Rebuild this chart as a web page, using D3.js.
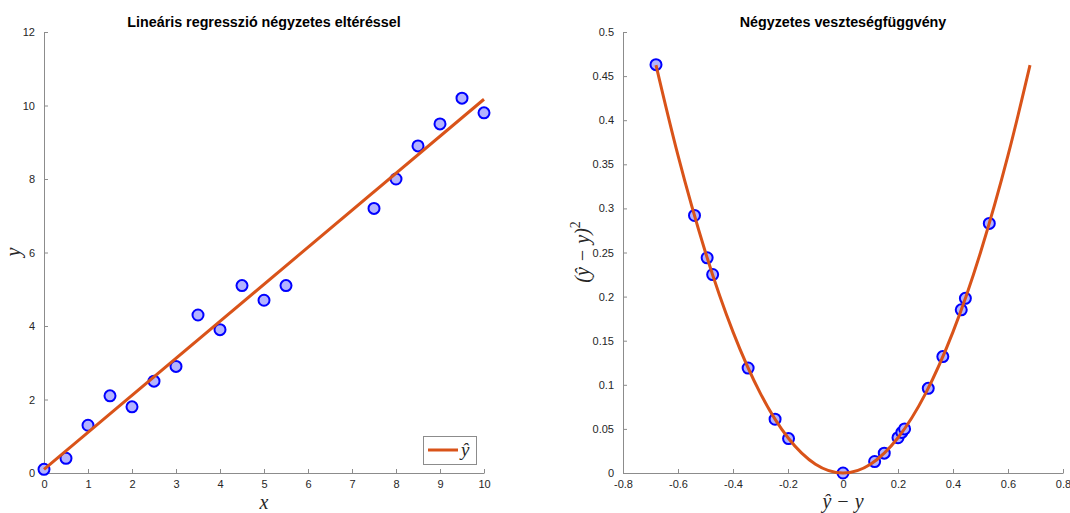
<!DOCTYPE html>
<html>
<head>
<meta charset="utf-8">
<script src="https://cdn.jsdelivr.net/npm/d3@7"></script>
<style>
body { margin: 0; background: #fff; }
svg { display: block; }
.tick text { font-family: "Liberation Sans", Arial, sans-serif; font-size: 11px; fill: #262626; }
.title { font-family: "Liberation Sans", Arial, sans-serif; font-size: 14.3px; font-weight: bold; fill: #000; }
.label { font-family: "Liberation Serif", "DejaVu Serif", serif; font-style: italic; font-size: 20px; fill: #262626; }
</style>
</head>
<body>
<svg id="chart" width="1070" height="513"></svg>
<script>
// left panel: data and fitted line
var xs = [0, 0.5, 1, 1.5, 2, 2.5, 3, 3.5, 4, 4.5, 5, 5.5, 7.5, 8, 8.5, 9, 9.5, 10];
var ys = [0.1, 0.4, 1.3, 2.1, 1.8, 2.5, 2.9, 4.3, 3.9, 5.1, 4.7, 5.1, 7.2, 8.0, 8.9, 9.5, 10.2, 9.8];
var fitX = [0, 10];
var fitY = [0.1, 10.17];
var leftXTicks = [0, 1, 2, 3, 4, 5, 6, 7, 8, 9, 10];
var leftYTicks = [0, 2, 4, 6, 8, 10, 12];

// right panel: residuals and squared loss
var resid = [-0.68, -0.54, -0.494, -0.474, -0.345, -0.247, -0.198, 0.0, 0.115, 0.15, 0.2, 0.214, 0.224, 0.31, 0.363, 0.43, 0.445, 0.532];
var loss = [0.463, 0.292, 0.244, 0.225, 0.119, 0.061, 0.039, 0.0, 0.013, 0.0225, 0.04, 0.046, 0.05, 0.096, 0.132, 0.185, 0.198, 0.283];
var curveX = [-0.68, -0.6, -0.5, -0.4, -0.3, -0.2, -0.1, 0, 0.1, 0.2, 0.3, 0.4, 0.5, 0.6, 0.68];
var curveY = [0.4624, 0.36, 0.25, 0.16, 0.09, 0.04, 0.01, 0, 0.01, 0.04, 0.09, 0.16, 0.25, 0.36, 0.4624];
var rightXTicks = [-0.8, -0.6, -0.4, -0.2, 0, 0.2, 0.4, 0.6, 0.8];
var rightYTicks = [0, 0.05, 0.1, 0.15, 0.2, 0.25, 0.3, 0.35, 0.4, 0.45, 0.5];

var config = {
    lineColor: '#D95319',
    markerEdge: '#0000FF',
    markerFace: '#B3B3FF',
    axisColor: '#8c8c8c'
};

var svg = d3.select('#chart');

function drawAxes(g, x, y, xTicks, yTicks) {
    var xa = g.append('g')
        .attr('transform', 'translate(0,' + y.range()[0] + ')')
        .call(d3.axisBottom(x).tickValues(xTicks).tickSizeInner(-4).tickSizeOuter(0).tickPadding(7)
            .tickFormat(function(d) { return String(+d.toFixed(2)); }));
    var ya = g.append('g')
        .attr('transform', 'translate(' + x.range()[0] + ',0)')
        .call(d3.axisLeft(y).tickValues(yTicks).tickSizeInner(-4).tickSizeOuter(0).tickPadding(9)
            .tickFormat(function(d) { return String(+d.toFixed(2)); }));
    [xa, ya].forEach(function(a) {
        a.select('.domain').attr('stroke', config.axisColor);
        a.selectAll('.tick line').attr('stroke', config.axisColor);
    });
}

function drawPoints(g, x, y, px, py) {
    g.append('g').selectAll('circle')
        .data(px)
        .join('circle')
        .attr('cx', function(d) { return x(d); })
        .attr('cy', function(d, i) { return y(py[i]); })
        .attr('r', 5.5)
        .attr('fill', config.markerFace)
        .attr('stroke', config.markerEdge)
        .attr('stroke-width', 2);
}

function drawLine(g, x, y, lx, ly, curve) {
    var line = d3.line()
        .x(function(d) { return x(d); })
        .y(function(d, i) { return y(ly[i]); })
        .curve(curve || d3.curveLinear);
    g.append('path')
        .attr('d', line(lx))
        .attr('fill', 'none')
        .attr('stroke', config.lineColor)
        .attr('stroke-width', 3);
}

// ---- left panel
var xL = d3.scaleLinear().domain([0, 10]).range([44, 484]);
var yL = d3.scaleLinear().domain([0, 12]).range([473, 32]);
var gL = svg.append('g');
drawAxes(gL, xL, yL, leftXTicks, leftYTicks);
drawPoints(gL, xL, yL, xs, ys);
drawLine(gL, xL, yL, fitX, fitY);

gL.append('text').classed('title', true)
    .attr('x', 264).attr('y', 27).attr('text-anchor', 'middle')
    .text('Lineáris regresszió négyzetes eltéréssel');
gL.append('text').classed('label', true)
    .attr('x', 264).attr('y', 509).attr('text-anchor', 'middle')
    .text('x');
gL.append('text').classed('label', true)
    .attr('transform', 'translate(20,252) rotate(-90)').attr('text-anchor', 'middle')
    .text('y');

// legend
var leg = gL.append('g');
leg.append('rect')
    .attr('x', 423.5).attr('y', 436.5).attr('width', 53).attr('height', 28)
    .attr('fill', '#fff').attr('stroke', '#8c8c8c').attr('stroke-width', 1);
leg.append('line')
    .attr('x1', 428).attr('x2', 458).attr('y1', 450).attr('y2', 450)
    .attr('stroke', config.lineColor).attr('stroke-width', 3);
leg.append('text').classed('label', true)
    .attr('x', 461).attr('y', 456).style('font-size', '19px')
    .text('ŷ');

// ---- right panel
var xR = d3.scaleLinear().domain([-0.8, 0.8]).range([623, 1063]);
var yR = d3.scaleLinear().domain([0, 0.5]).range([473, 32]);
var gR = svg.append('g');
drawAxes(gR, xR, yR, rightXTicks, rightYTicks);
drawPoints(gR, xR, yR, resid, loss);
drawLine(gR, xR, yR, curveX, curveY, d3.curveNatural);

gR.append('text').classed('title', true)
    .attr('x', 843).attr('y', 27).attr('text-anchor', 'middle')
    .text('Négyzetes veszteségfüggvény');
gR.append('text').classed('label', true)
    .attr('x', 843).attr('y', 508).attr('text-anchor', 'middle')
    .text('ŷ − y');
var yl = gR.append('text').classed('label', true)
    .attr('transform', 'translate(589,252) rotate(-90)').attr('text-anchor', 'middle');
yl.append('tspan').text('(ŷ − y)');
yl.append('tspan').attr('dy', -9).style('font-size', '14px').style('font-style', 'normal').text('2');
</script>
</body>
</html>
